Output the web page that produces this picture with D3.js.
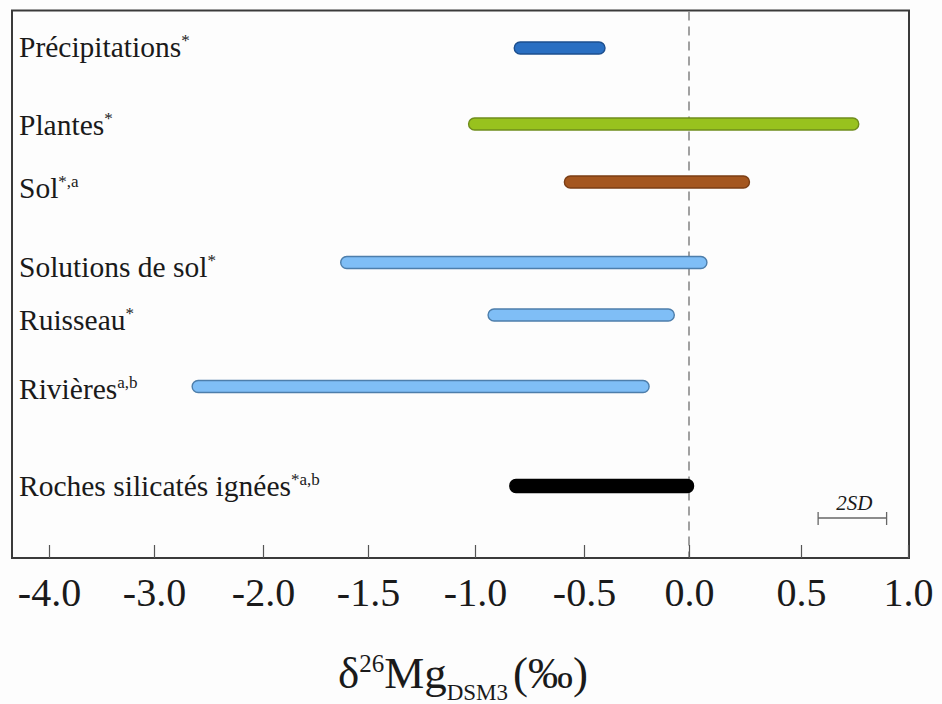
<!DOCTYPE html>
<html>
<head>
<meta charset="utf-8">
<script src="https://cdn.jsdelivr.net/npm/d3@7"></script>
<style>
  html, body { margin: 0; padding: 0; background: #fdfdfd; }
  svg { display: block; }
  text { font-family: "Liberation Serif", "Times New Roman", serif; fill: #1a1a1a; }
</style>
</head>
<body>
<svg id="chart" width="942" height="704"></svg>
<script>
// ---- data ----
const categories = ["Précipitations", "Plantes", "Sol", "Solutions de sol", "Ruisseau", "Rivières", "Roches silicatés ignées"];
const superscripts = ["*", "*", "*,a", "*", "*", "a,b", "*a,b"];
const minValues = [-0.82, -1.03, -0.59, -1.63, -0.94, -2.65, -0.84];
const maxValues = [-0.40, 0.77, 0.27, 0.08, -0.07, -0.19, 0.02];
const fillColors = ["#2a6fc2", "#98c21e", "#a4561f", "#7fbef6", "#7fbef6", "#7fbef6", "#000000"];
const strokeColors = ["#1d4f8e", "#6f8d1c", "#7b3e15", "#4d7eab", "#4d7eab", "#4d7eab", "#000000"];
const tickValues = [-4.0, -3.0, -2.0, -1.5, -1.0, -0.5, 0.0, 0.5, 1.0];
const tickLabels = ["-4.0", "-3.0", "-2.0", "-1.5", "-1.0", "-0.5", "0.0", "0.5", "1.0"];
const sdRange = [0.58, 0.90];

// ---- layout ----
const svg = d3.select("#chart");
const frame = { left: 12, top: 10.5, right: 909, bottom: 558 };
// broken (piecewise) axis as drawn in the source figure
const tickPixels = [49, 154, 263, 368, 475, 584, 689, 801, 908];
const x = d3.scaleLinear().domain(tickValues).range(tickPixels);

const rowCenters = [48, 124, 182, 262.5, 315, 386.5, 486];
const y = d3.scaleOrdinal().domain(categories).range(rowCenters);

// frame
svg.append("rect")
  .attr("x", frame.left).attr("y", frame.top)
  .attr("width", frame.right - frame.left).attr("height", frame.bottom - frame.top)
  .attr("fill", "#fdfdfd").attr("stroke", "#3a3a3a").attr("stroke-width", 2);

// zero dashed line
svg.append("line")
  .attr("x1", x(0)).attr("x2", x(0))
  .attr("y1", frame.top + 1).attr("y2", frame.bottom - 1)
  .attr("stroke", "#8a8a8a").attr("stroke-width", 1.6)
  .attr("stroke-dasharray", "9,6");

// x axis (ticks inward, labels below)
const axis = d3.axisBottom(x)
  .tickValues(tickValues)
  .tickFormat((d, i) => tickLabels[i])
  .tickSizeInner(-13).tickSizeOuter(0).tickPadding(0);
const gAxis = svg.append("g").attr("transform", `translate(0,${frame.bottom})`).call(axis);
gAxis.select(".domain").remove();
gAxis.selectAll(".tick line").attr("stroke", "#555").attr("stroke-width", 1.2);
gAxis.selectAll(".tick text")
  .attr("y", 48).attr("dy", 0)
  .style("font-family", "'Liberation Serif', serif")
  .style("font-size", "40px").attr("fill", "#1a1a1a");

// bars
const barH = 12;
const rows = categories.map((c, i) => ({ c, i, lo: minValues[i], hi: maxValues[i] }));
svg.append("g").selectAll("rect")
  .data(rows).join("rect")
  .attr("x", d => x(d.lo))
  .attr("y", d => y(d.c) - (d.i === 6 ? 13 : barH) / 2)
  .attr("width", d => x(d.hi) - x(d.lo))
  .attr("height", d => d.i === 6 ? 13 : barH)
  .attr("rx", 6).attr("ry", 6)
  .attr("fill", d => fillColors[d.i])
  .attr("stroke", d => strokeColors[d.i])
  .attr("stroke-width", 1.4);

// category labels
const labelBaselineOffset = [9, 11, 16, 14, 15, 12, 10];
const lab = svg.append("g").selectAll("text")
  .data(rows).join("text")
  .attr("x", 19)
  .attr("y", d => y(d.c) + labelBaselineOffset[d.i])
  .style("font-size", "29.5px");
lab.append("tspan").text(d => d.c);
lab.append("tspan")
  .attr("dy", -11)
  .style("font-size", "17px")
  .text(d => superscripts[d.i]);

// 2SD scale bar
const sdY = 518;
const gSd = svg.append("g").attr("stroke", "#666").attr("stroke-width", 1.3);
gSd.append("line").attr("x1", x(sdRange[0])).attr("x2", x(sdRange[1])).attr("y1", sdY).attr("y2", sdY);
gSd.append("line").attr("x1", x(sdRange[0])).attr("x2", x(sdRange[0])).attr("y1", sdY - 6).attr("y2", sdY + 7);
gSd.append("line").attr("x1", x(sdRange[1])).attr("x2", x(sdRange[1])).attr("y1", sdY - 6).attr("y2", sdY + 7);
svg.append("text")
  .attr("x", (x(sdRange[0]) + x(sdRange[1])) / 2 + 2)
  .attr("y", 510)
  .attr("text-anchor", "middle")
  .style("font-size", "21px").style("font-style", "italic")
  .text("2SD");

// axis title
const title = svg.append("text")
  .attr("x", 463).attr("y", 688)
  .attr("text-anchor", "middle")
  .style("font-size", "45px");
title.append("tspan").text("δ");
title.append("tspan").attr("dy", -16).style("font-size", "25px").text("26");
title.append("tspan").attr("dy", 16).text("Mg");
title.append("tspan").attr("dy", 12).style("font-size", "23px").text("DSM3");
title.append("tspan").attr("dy", -12).attr("dx", 5).text("(‰)");
</script>
</body>
</html>
